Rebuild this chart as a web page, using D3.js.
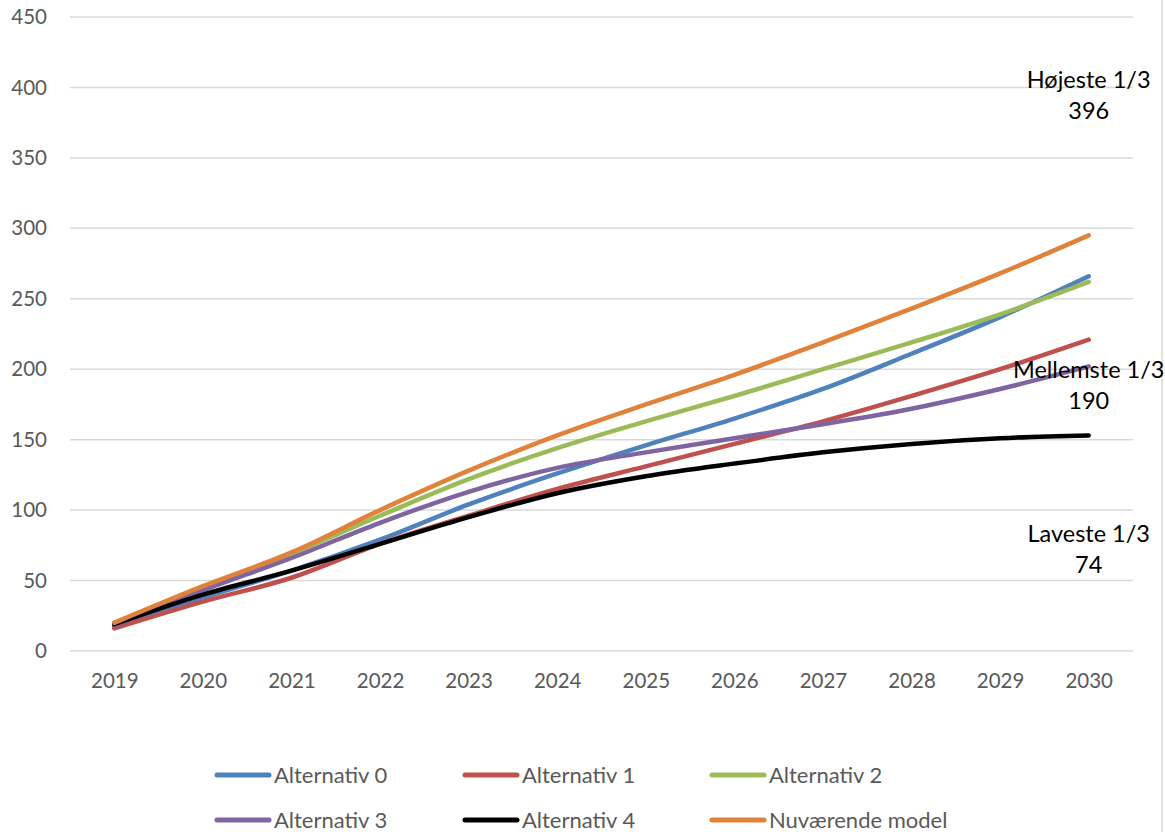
<!DOCTYPE html>
<html>
<head>
<meta charset="utf-8">
<script src="https://cdn.jsdelivr.net/npm/d3@7"></script>
<style>
  body { margin: 0; background: #ffffff; }
</style>
</head>
<body>
<div id="chart"></div>
<script>
// Data
const years = ["2019", "2020", "2021", "2022", "2023", "2024", "2025", "2026", "2027", "2028", "2029", "2030"];
const alt0 = [17, 38, 57, 79, 104, 126, 146, 165, 186, 211, 237, 266];
const alt1 = [16, 35, 52, 76, 96, 115, 131, 147, 163, 181, 200, 221];
const alt2 = [20, 45, 69, 96, 122, 144, 163, 181, 200, 219, 239, 262];
const alt3 = [18, 43, 66, 91, 113, 130, 141, 151, 161, 172, 186, 202];
const alt4 = [19, 40, 57, 76, 95, 112, 124, 133, 141, 147, 151, 153];
const model = [20, 46, 70, 100, 128, 153, 175, 196, 219, 243, 268, 295];
const seriesNames = ["Alternativ 0", "Alternativ 1", "Alternativ 2", "Alternativ 3", "Alternativ 4", "Nuværende model"];
const yTicks = [0, 50, 100, 150, 200, 250, 300, 350, 400, 450];
// Labels sitting in the 2030 column at their own value
const thirdNames = ["Højeste 1/3", "Mellemste 1/3", "Laveste 1/3"];
const thirdValues = [396, 190, 74];

const colors = ["#4f81bd", "#c0504d", "#9bbb59", "#8064a2", "#000000", "#e0823a"];
const font = "Lato, 'Open Sans', sans-serif";

const W = 1165, H = 832;
const margin = {top: 17, right: 32, bottom: 181, left: 70};
const width = W - margin.left - margin.right;
const height = H - margin.top - margin.bottom;

const svg = d3.select("#chart")
    .append("svg")
        .attr("width", W)
        .attr("height", H);

// Frame edge visible on the right side
svg.append("line")
    .attr("x1", 1162).attr("x2", 1162)
    .attr("y1", 0).attr("y2", H)
    .attr("stroke", "#d9d9d9")
    .attr("stroke-width", 1.5);

const g = svg.append("g")
    .attr("transform", `translate(${margin.left},${margin.top})`);

const x = d3.scalePoint()
    .domain(years)
    .range([0, width])
    .padding(0.5);

const y = d3.scaleLinear()
    .domain([0, 450])
    .range([height, 0]);

// Gridlines
g.append("g")
    .selectAll("line")
    .data(yTicks)
    .enter()
    .append("line")
    .attr("x1", 0)
    .attr("x2", width)
    .attr("y1", d => y(d))
    .attr("y2", d => y(d))
    .attr("stroke", "#d9d9d9")
    .attr("stroke-width", 1.5);

// Y axis labels
const yAxis = g.append("g")
    .call(d3.axisLeft(y).tickValues(yTicks).tickSize(0).tickPadding(23));
yAxis.select(".domain").remove();
yAxis.selectAll("text")
    .attr("font-family", font)
    .style("font-size", "20.5px")
    .attr("fill", "#595959");

// X axis labels
const xAxis = g.append("g")
    .attr("transform", `translate(0,${height})`)
    .call(d3.axisBottom(x).tickSize(0).tickPadding(22));
xAxis.select(".domain").remove();
xAxis.selectAll("text")
    .attr("font-family", font)
    .style("font-size", "20.5px")
    .attr("fill", "#595959");

// Lines (later series drawn on top)
const allSeries = [alt0, alt1, alt2, alt3, alt4, model];
const line = d3.line()
    .x((d, i) => x(years[i]))
    .y(d => y(d))
    .curve(d3.curveCatmullRom);

allSeries.forEach(function(values, k) {
    g.append("path")
        .datum(values)
        .attr("fill", "none")
        .attr("stroke", colors[k])
        .attr("stroke-width", 4.5)
        .attr("stroke-linecap", "round")
        .attr("stroke-linejoin", "round")
        .attr("d", line);
});

// Third labels at 2030
thirdNames.forEach(function(name, k) {
    const t = g.append("text")
        .attr("font-family", font)
        .style("font-size", "23.5px")
        .attr("fill", "#000000")
        .attr("text-anchor", "middle")
        .attr("x", x("2030"))
        .attr("y", y(thirdValues[k]) - 5);
    t.append("tspan")
        .attr("x", x("2030"))
        .text(name);
    t.append("tspan")
        .attr("x", x("2030"))
        .attr("dy", 31)
        .text(thirdValues[k]);
});

// Legend
const legendX = [215, 463, 710];
const legendY = [775, 820];
seriesNames.forEach(function(name, k) {
    const lx = legendX[k % 3];
    const ly = legendY[Math.floor(k / 3)];
    svg.append("line")
        .attr("x1", lx + 2).attr("x2", lx + 54)
        .attr("y1", ly).attr("y2", ly)
        .attr("stroke", colors[k])
        .attr("stroke-width", 5)
        .attr("stroke-linecap", "round");
    svg.append("text")
        .attr("font-family", font)
        .style("font-size", "22px")
        .attr("fill", "#595959")
        .attr("x", lx + 59)
        .attr("y", ly)
        .attr("dy", "0.35em")
        .text(name);
});
</script>
</body>
</html>
